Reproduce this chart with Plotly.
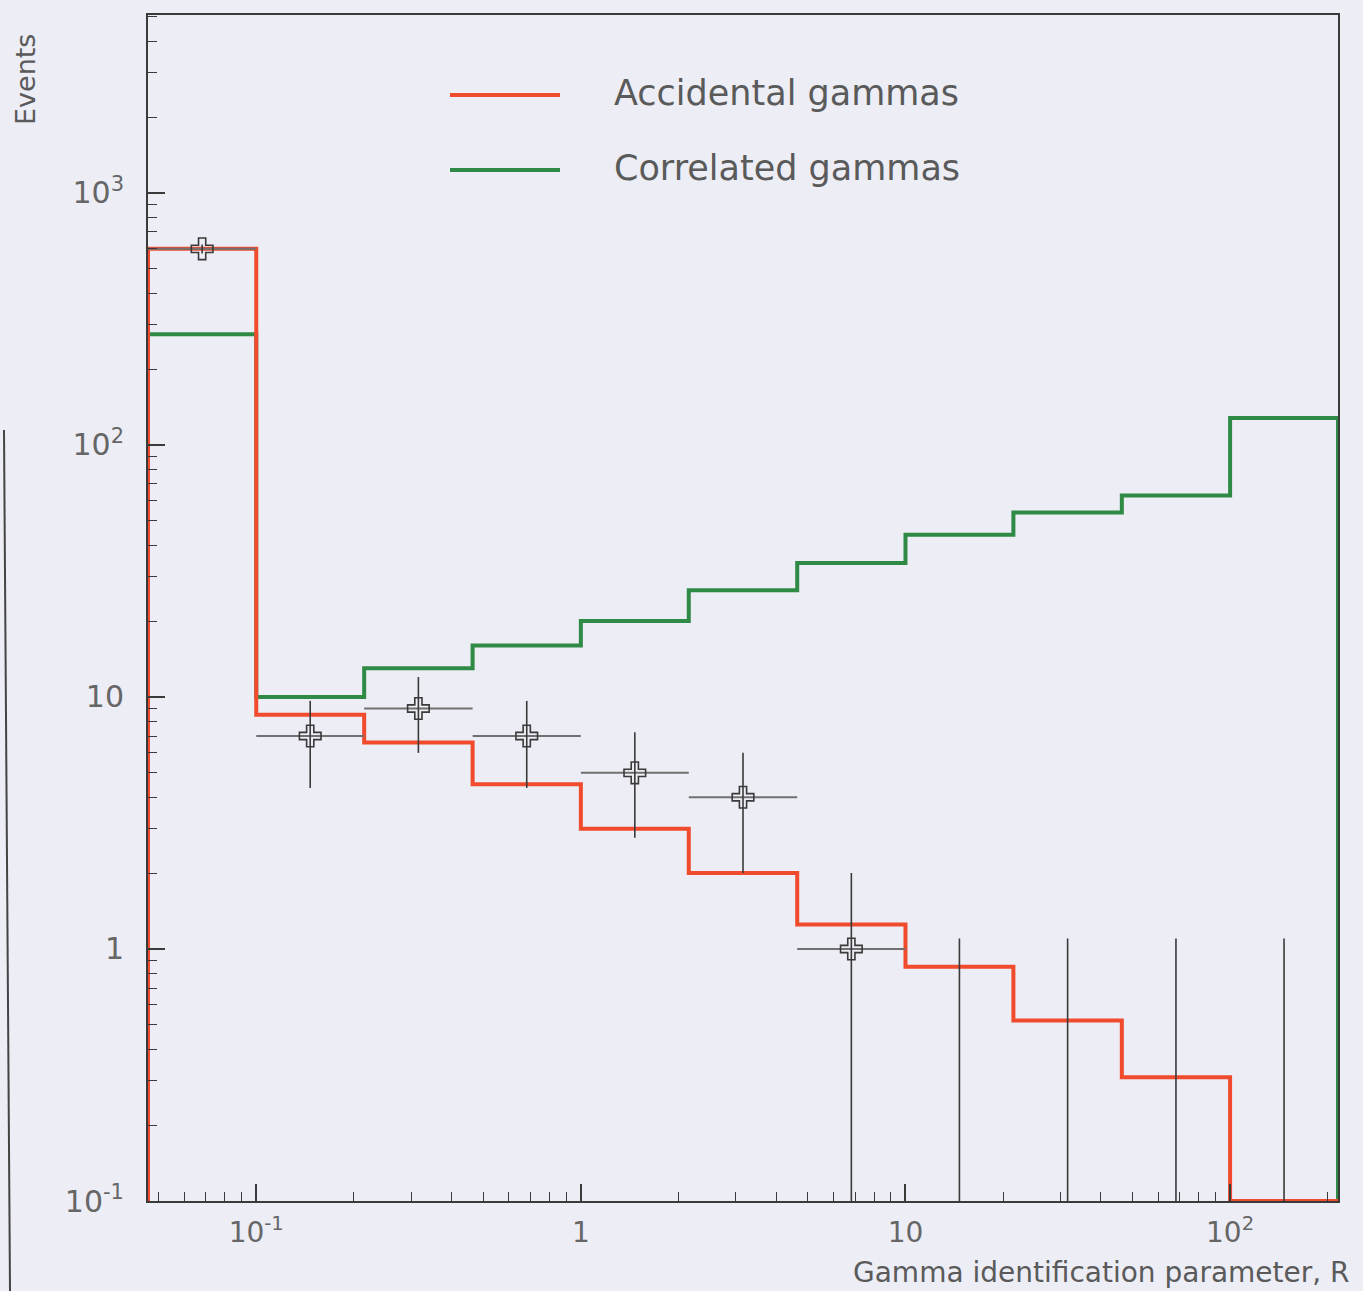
import numpy as np
import plotly.graph_objects as go

# Bin edges of the R histograms: three bins per decade, 10^(-4/3) ... 10^(7/3)
bin_edges = [0.0464, 0.1, 0.215, 0.464, 1.0, 2.15, 4.64, 10.0, 21.5, 46.4, 100.0, 215.0]

# Expected events per bin
accidental = [600, 8.5, 6.6, 4.5, 3.0, 2.0, 1.25, 0.85, 0.52, 0.31, 0.0]
correlated = [275, 10.0, 13.0, 16.0, 20.0, 26.5, 34.0, 44.0, 54.0, 63.0, 128.0]

# Observed events per bin and the upper error shown for empty bins
observed = [600, 7, 9, 7, 5, 4, 1, 0, 0, 0, 0]
empty_bin_upper = 1.1

legend_labels = ["Accidental gammas", "Correlated gammas"]
y_tick_vals = [0.1, 1, 10, 100, 1000]
y_tick_text = ["10<sup>-1</sup>", "1", "10", "10<sup>2</sup>", "10<sup>3</sup>"]
x_tick_vals = [0.1, 1, 10, 100]
x_tick_text = ["10<sup>-1</sup>", "1", "10", "10<sup>2</sup>"]

RED = "#f04b2c"
GREEN = "#2e8a45"
INK = "#3a3a3a"
TEXT = "#5a5a5a"
BG = "#ecedf5"
FONT = "DejaVu Sans"

W, H = 1363, 1291
L, R, T, B = 148, 25, 15, 90
Y_MIN_LOG = -1.0
X_LOG_RANGE = [np.log10(bin_edges[0]), np.log10(bin_edges[-1])]
Y_LOG_RANGE = [Y_MIN_LOG, 3.706]
floor = 10 ** Y_MIN_LOG

edges = np.array(bin_edges)
centers = np.sqrt(edges[:-1] * edges[1:])


def step_outline(values):
    """Histogram outline that starts and ends on the axis floor."""
    v = [max(val, floor) for val in values]
    xs = [edges[0]] + list(edges[:-1]) + [edges[-1]]
    ys = [floor] + v + [floor]
    return xs, ys


fig = go.Figure()

for vals, color in ((correlated, GREEN), (accidental, RED)):
    xs, ys = step_outline(vals)
    fig.add_trace(go.Scatter(
        x=xs, y=ys, mode="lines", line=dict(color=color, width=4, shape="hv"),
        cliponaxis=False, showlegend=False, hoverinfo="skip"))

# Data points: horizontal bars span the bin, vertical bars are +-sqrt(N)
obs = np.array(observed, dtype=float)
err = np.where(obs > 0, np.sqrt(obs), 0.0)
hx, hy, vx, vy = [], [], [], []
for i, n in enumerate(obs):
    if n > 0:
        hx += [edges[i], edges[i + 1], None]
        hy += [n, n, None]
        lo = n - err[i] if n - err[i] > 0 else floor / 10
        hi = n + err[i]
    else:
        lo, hi = floor / 10, empty_bin_upper
    vx += [centers[i], centers[i], None]
    vy += [lo, hi, None]

fig.add_trace(go.Scatter(x=hx, y=hy, mode="lines", line=dict(color="#707070", width=2),
                         showlegend=False, hoverinfo="skip"))
fig.add_trace(go.Scatter(x=vx, y=vy, mode="lines", line=dict(color=INK, width=1.6),
                         showlegend=False, hoverinfo="skip"))
mask = obs > 0
fig.add_trace(go.Scatter(
    x=centers[mask], y=obs[mask], mode="markers",
    marker=dict(symbol="cross-open", size=18, color=INK, line=dict(width=1.6, color=INK)),
    showlegend=False))

# Minor tick positions (2..9 times each power of ten)
x_minor = [k * 10.0 ** d for d in range(-2, 3) for k in range(2, 10)
           if bin_edges[0] < k * 10.0 ** d < bin_edges[-1]]
y_minor = [k * 10.0 ** d for d in range(-1, 4) for k in range(2, 10)
           if k * 10.0 ** d < 10 ** Y_LOG_RANGE[1]]

axis_common = dict(
    type="log", showgrid=False, zeroline=False, showline=True, linecolor=INK,
    linewidth=2, mirror=True, ticks="inside", ticklen=17, tickwidth=1.5,
    tickcolor=INK, tickmode="array",
)
fig.update_xaxes(
    **axis_common, range=X_LOG_RANGE, tickvals=x_tick_vals, ticktext=x_tick_text,
    ticklabelstandoff=5, tickfont=dict(family=FONT, size=28, color="#666666"),
    minor=dict(tickmode="array", tickvals=x_minor, ticks="inside", ticklen=9,
               tickwidth=1.3, tickcolor=INK))
fig.update_yaxes(
    **axis_common, range=Y_LOG_RANGE, tickvals=y_tick_vals, ticktext=y_tick_text,
    ticklabelstandoff=16, tickfont=dict(family=FONT, size=30, color="#666666"),
    minor=dict(tickmode="array", tickvals=y_minor, ticks="inside", ticklen=9,
               tickwidth=1.3, tickcolor=INK))

pw, ph = W - L - R, H - T - B


def px(x):
    return (x - L) / pw


def py(y):
    return (H - B - y) / ph


# Legend drawn as line keys with labels
shapes = []
annotations = []
for (label, color, yk) in ((legend_labels[0], RED, 95), (legend_labels[1], GREEN, 170)):
    shapes.append(dict(type="line", xref="paper", yref="paper",
                       x0=px(450), x1=px(560), y0=py(yk), y1=py(yk),
                       line=dict(color=color, width=4)))
    annotations.append(dict(xref="paper", yref="paper", x=px(612), y=py(yk - 2),
                            text=label, showarrow=False, xanchor="left", yanchor="middle",
                            font=dict(family=FONT, size=35, color=TEXT)))

annotations.append(dict(xref="paper", yref="paper", x=px(1352), y=py(1272),
                        text="Gamma identification parameter, R", showarrow=False,
                        xanchor="right", yanchor="middle",
                        font=dict(family=FONT, size=28, color=TEXT)))
annotations.append(dict(xref="paper", yref="paper", x=px(25), y=py(80),
                        text="Events", showarrow=False, textangle=-90,
                        xanchor="center", yanchor="middle",
                        font=dict(family=FONT, size=27, color=TEXT)))

# Page edge line on the far left
shapes.append(dict(type="line", xref="paper", yref="paper",
                   x0=px(4), x1=px(10), y0=py(430), y1=py(1291),
                   line=dict(color="#444444", width=2)))

fig.update_layout(
    width=W, height=H, margin=dict(l=L, r=R, t=T, b=B),
    paper_bgcolor=BG, plot_bgcolor=BG, showlegend=False,
    shapes=shapes, annotations=annotations,
)

fig.write_html("out.html")
